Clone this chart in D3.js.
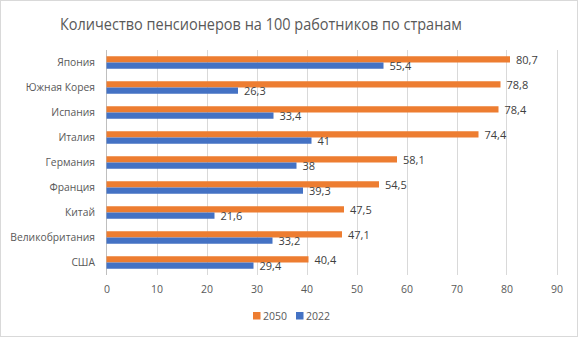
<!DOCTYPE html>
<html><head><meta charset="utf-8">
<script src="https://cdn.jsdelivr.net/npm/d3@7"></script>
<style>body{margin:0;background:#fff;} svg{display:block;}</style>
</head><body>
<script>
const categories = ["Япония","Южная Корея","Испания","Италия","Германия","Франция","Китай","Великобритания","США"];
const values2050 = [80.7,78.8,78.4,74.4,58.1,54.5,47.5,47.1,40.4];
const values2022 = [55.4,26.3,33.4,41,38,39.3,21.6,33.2,29.4];
const seriesNames = ["2050","2022"];
const xTicks = [0,10,20,30,40,50,60,70,80,90];
const title = "Количество пенсионеров на 100 работников по странам";

const W=578,H=337;
const colors={"2050":"#ED7D31","2022":"#4472C4"};
const font="'Open Sans', 'Noto Sans', sans-serif";
const svg=d3.select("body").append("svg").attr("width",W).attr("height",H);
svg.append("rect").attr("x",0.5).attr("y",0.5).attr("width",W-1).attr("height",H-1).attr("fill","#fff").attr("stroke","#d9d9d9");

const x=d3.scaleLinear().domain([0,90]).range([106.5,556.5]);
const y=d3.scaleBand().domain(categories).range([50,275]).paddingInner(0.5).paddingOuter(0.25);
const ys=d3.scaleBand().domain(seriesNames).range([0,y.bandwidth()]);

svg.append("text").attr("x",261).attr("y",29.5).attr("text-anchor","middle")
  .attr("font-family",font).attr("font-size",16.5).attr("fill","#595959")
  .attr("textLength",402).attr("lengthAdjust","spacingAndGlyphs").text(title);

// grid
svg.append("g").selectAll("line").data(xTicks.slice(1)).join("line")
  .attr("x1",d=>Math.round(x(d))+0.5).attr("x2",d=>Math.round(x(d))+0.5)
  .attr("y1",50).attr("y2",275).attr("stroke","#d9d9d9");
svg.append("line").attr("x1",106.5).attr("x2",106.5).attr("y1",50).attr("y2",275).attr("stroke","#bfbfbf");

const xAxis=d3.axisBottom(x).tickValues(xTicks).tickSize(0).tickPadding(0);
const gx=svg.append("g").attr("transform","translate(0,286)").call(xAxis);
gx.select(".domain").remove();
gx.selectAll("text").attr("font-family",font).attr("font-size",10.5).attr("fill","#595959").attr("dy","0.71em");

const yAxis=d3.axisLeft(y).tickSize(0).tickPadding(0);
const gy=svg.append("g").attr("transform","translate(95,0)").call(yAxis);
gy.select(".domain").remove();
gy.selectAll("text").attr("font-family",font).attr("font-size",10.3).attr("fill","#595959");

const data=[{name:"2050",vals:values2050},{name:"2022",vals:values2022}];
const fmt=v=>String(v).replace(".",",");
data.forEach(s=>{
  const g=svg.append("g");
  g.selectAll("rect").data(s.vals).join("rect")
    .attr("x",x(0)).attr("y",(d,i)=>y(categories[i])+ys(s.name))
    .attr("width",d=>x(d)-x(0)).attr("height",ys.bandwidth())
    .attr("fill",colors[s.name]);
  g.selectAll("text").data(s.vals).join("text")
    .attr("x",d=>x(d)+6).attr("y",(d,i)=>y(categories[i])+ys(s.name)+ys.bandwidth()/2+1)
    .attr("dy","0.35em").attr("font-family",font).attr("font-size",11).attr("fill","#404040")
    .text(d=>fmt(d));
});

// legend
const leg=svg.append("g").attr("transform","translate(253,312)");
[["2050",0],["2022",43]].forEach(([n,off])=>{
  leg.append("rect").attr("x",off).attr("y",0).attr("width",7.5).attr("height",7.5).attr("fill",colors[n]);
  leg.append("text").attr("x",off+10).attr("y",4).attr("dy","0.35em").attr("font-family",font).attr("font-size",10.5).attr("fill","#595959").text(n);
});
</script>
</body></html>
